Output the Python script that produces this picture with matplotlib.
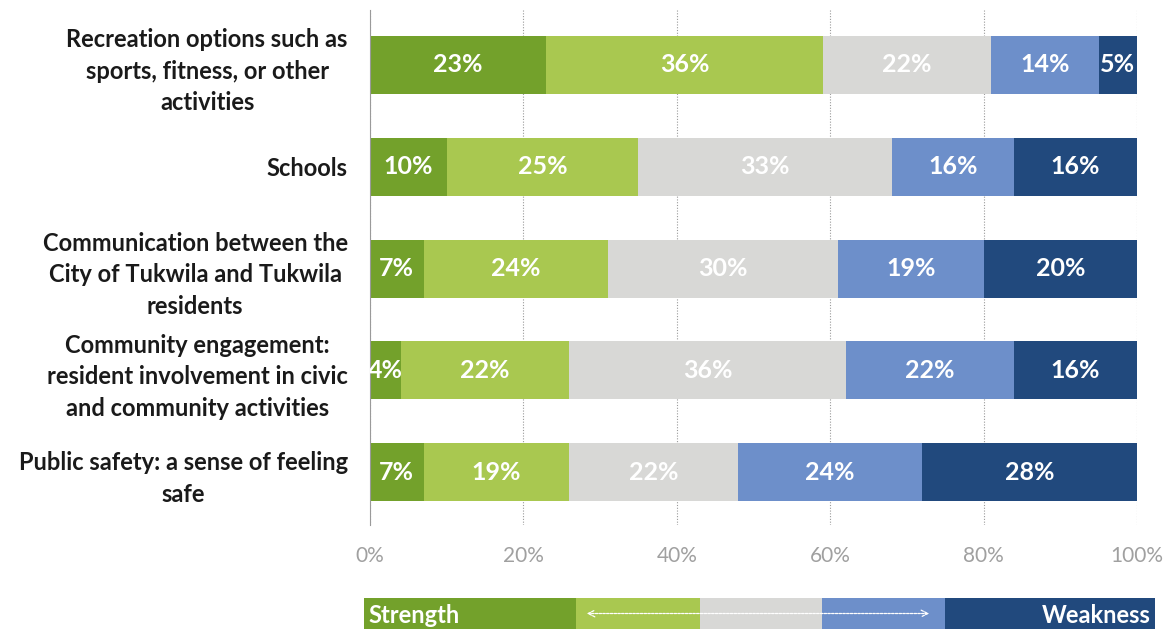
import matplotlib
matplotlib.use('Agg')
import matplotlib.pyplot as plt
import numpy as np

# categories top -> bottom
categories = [
    'Recreation options such as\nsports, fitness, or other\nactivities',
    'Schools',
    'Communication between the\nCity of Tukwila and Tukwila\nresidents',
    'Community engagement:\nresident involvement in civic\nand community activities',
    'Public safety: a sense of feeling\nsafe',
]

# percentages per response level (strength -> weakness)
strong_strength = [23, 10, 7, 4, 7]
strength = [36, 25, 24, 22, 19]
neutral = [22, 33, 30, 36, 22]
weakness = [14, 16, 19, 22, 24]
strong_weakness = [5, 16, 20, 16, 28]

tick_values = [0, 20, 40, 60, 80, 100]
tick_labels = ['0%', '20%', '40%', '60%', '80%', '100%']

# legend key segment proportions
legend_widths = [212, 124, 122, 123, 210]

colors = ['#73a12b', '#a9c850', '#d8d8d6', '#6d8fca', '#21497d']

plt.rcParams['font.family'] = ['Lato', 'DejaVu Sans']

fig = plt.figure(figsize=(11.67, 6.29), dpi=100)
ax = fig.add_axes([370 / 1167, 1 - 525 / 629, 767 / 1167, 515 / 629])

series = [strong_strength, strength, neutral, weakness, strong_weakness]
y = np.arange(len(categories))
left = np.zeros(len(categories))
for vals, col in zip(series, colors):
    vals = np.array(vals, dtype=float)
    ax.barh(y, vals, left=left, height=0.57, color=col, edgecolor='none', zorder=2)
    for yi, l, v in zip(y, left, vals):
        ax.text(l + v / 2, yi, f'{int(v)}%', ha='center', va='center',
                color='white', fontsize=18, fontweight='bold', zorder=3,
                clip_on=True)
    left += vals

ax.set_xlim(0, 100)
ax.set_ylim(4.52, -0.54)
ax.set_xticks(tick_values)
ax.set_xticklabels(tick_labels, color='#a0a0a0', fontsize=15)
ax.tick_params(axis='x', length=0, pad=15)
ax.set_yticks(y)
ax.set_yticklabels(categories, fontsize=17, fontweight='bold', color='#1a1a1a',
                   linespacing=1.45, multialignment='center')
ax.tick_params(axis='y', length=0, pad=16)
ax.grid(axis='x', color='#9a9a9a', linestyle=(0, (1, 1.5)), linewidth=0.8, zorder=0)
for s in ['top', 'right', 'bottom']:
    ax.spines[s].set_visible(False)
ax.spines['left'].set_color('#9a9a9a')
ax.spines['left'].set_linewidth(0.8)

# legend key bar at the bottom
lax = fig.add_axes([364 / 1167, 0, 791 / 1167, 31 / 629])
lleft = 0
for w, col in zip(legend_widths, colors):
    lax.barh(0, w, left=lleft, height=1, color=col, edgecolor='none')
    lleft += w
lax.set_xlim(0, sum(legend_widths))
lax.set_ylim(-0.5, 0.5)
lax.axis('off')
lax.text(4, -0.05, 'Strength', ha='left', va='center', color='white',
         fontsize=17, fontweight='bold')
lax.text(sum(legend_widths) - 4, -0.05, 'Weakness', ha='right', va='center',
         color='white', fontsize=17, fontweight='bold')
lax.annotate('', xy=(220, 0), xytext=(568, 0),
             arrowprops=dict(arrowstyle='<->', color='white', lw=0.9,
                             linestyle=(0, (2, 1)), mutation_scale=12))

fig.savefig('out.png', dpi=100)
